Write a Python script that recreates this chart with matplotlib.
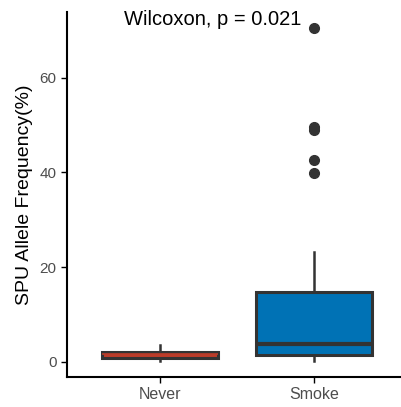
import matplotlib
matplotlib.use("Agg")
import matplotlib.pyplot as plt

plt.rcParams['font.family'] = ['Liberation Sans', 'DejaVu Sans']

# data
groups = ["Never", "Smoke"]
q1 = [0.9, 1.5]
med = [1.7, 3.8]
q3 = [2.1, 14.8]
whislo = [0.2, 0.1]
whishi = [3.6, 23.1]
outliers = [[], [70.6, 49.5, 49.0, 42.7, 39.9]]
fills = ["#BC3C29", "#0072B5"]
yticks = [0, 20, 40, 60]

stats = []
for i, g in enumerate(groups):
    stats.append(dict(label=g, q1=q1[i], med=med[i], q3=q3[i],
                      whislo=whislo[i], whishi=whishi[i], fliers=outliers[i]))

fig = plt.figure(figsize=(4.01, 4.07), dpi=100)
ax = fig.add_axes([0.167, 0.0737, 0.8475, 0.897])

edge = "#333333"
bp = ax.bxp(stats, positions=[1, 2], widths=0.75, patch_artist=True,
            showcaps=False,
            boxprops=dict(edgecolor=edge, linewidth=2.2),
            medianprops=dict(color=edge, linewidth=3),
            whiskerprops=dict(color=edge, linewidth=1.8),
            flierprops=dict(marker="o", markerfacecolor=edge, markeredgecolor=edge,
                            markersize=7))
for patch, c in zip(bp["boxes"], fills):
    patch.set_facecolor(c)
# the thin Never box only shows its red fill as a line in the middle
bp["medians"][0].set_color(fills[0])
bp["medians"][0].set_linewidth(1.2)

ax.set_xlim(0.4, 2.6)
ax.set_ylim(-3.2, 73.9)
ax.set_yticks(yticks)
ax.set_xticks([1, 2])
ax.set_xticklabels(groups)
ax.tick_params(axis="both", colors="black", length=4, width=1)
ax.tick_params(axis="y", labelsize=11, labelcolor="#4D4D4D")
ax.tick_params(axis="x", labelsize=11.5, labelcolor="#4D4D4D")
ax.set_ylabel("SPU Allele Frequency(%)", fontsize=14, labelpad=5)

for s in ["top", "right"]:
    ax.spines[s].set_visible(False)
for s in ["left", "bottom"]:
    ax.spines[s].set_linewidth(1.5)

ax.text(0.766, 72.3, "Wilcoxon, p = 0.021", fontsize=14.5, ha="left", va="center")

fig.savefig("out.png", dpi=100)
